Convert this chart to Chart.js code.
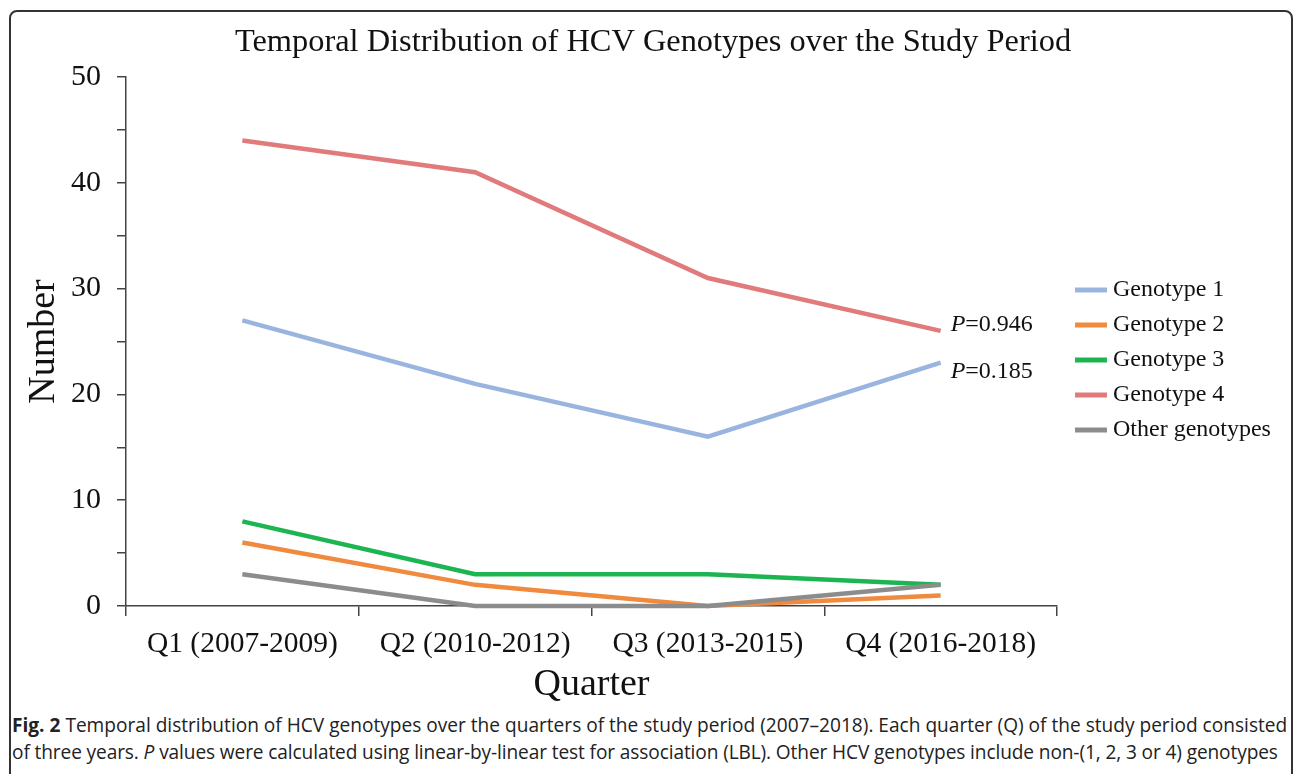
<!DOCTYPE html>
<html>
<head>
<meta charset="utf-8">
<script src="https://cdn.jsdelivr.net/npm/chart.js@4.4.1/dist/chart.umd.min.js"></script>
<style>
  body { margin: 0; background: #fff; width: 1293px; height: 774px; overflow: hidden; position: relative; }
  #moldura { position: absolute; left: 9px; top: 10px; width: 1280px; height: 800px; border: 2px solid #333; border-radius: 8px; }
  #grafico { position: absolute; left: 0; top: 0; }
  .legenda { position: absolute; left: 12px; font-family: "Open Sans", sans-serif; font-size: 19.1px; line-height: 26px; color: #222; white-space: nowrap; }
  .legenda b { font-weight: 700; }
  #linha2 { letter-spacing: -0.11px; }
</style>
</head>
<body>
<div id="moldura"></div>
<canvas id="grafico" width="1293" height="708"></canvas>
<div class="legenda" id="linha1" style="top:712px"><b>Fig. 2</b> Temporal distribution of HCV genotypes over the quarters of the study period (2007–2018). Each quarter (Q) of the study period consisted</div>
<div class="legenda" id="linha2" style="top:739px">of three years. <i>P</i> values were calculated using linear-by-linear test for association (LBL). Other HCV genotypes include non-(1, 2, 3 or 4) genotypes</div>
<script>
const quartis = ['Q1 (2007-2009)', 'Q2 (2010-2012)', 'Q3 (2013-2015)', 'Q4 (2016-2018)'];
const genotipo1 = [27, 21, 16, 23];
const genotipo2 = [6, 2, 0, 1];
const genotipo3 = [8, 3, 3, 2];
const genotipo4 = [44, 41, 31, 26];
const outros = [3, 0, 0, 2];
const nomes = ['Genotype 1', 'Genotype 2', 'Genotype 3', 'Genotype 4', 'Other genotypes'];
const cores = ['#9ab4e0', '#f08a3e', '#1db552', '#e07a7b', '#8c8c8c'];
const valoresP = ['0.946', '0.185'];
const titulo = 'Temporal Distribution of HCV Genotypes over the Study Period';

const serif = '"Liberation Serif", "Times New Roman", serif';
const series = [genotipo1, genotipo2, genotipo3, genotipo4, outros];

// later series on top, like the original
const datasets = series.map((dados, i) => ({
    label: nomes[i],
    data: dados,
    borderColor: cores[i],
    backgroundColor: cores[i],
    borderWidth: 4.5,
    pointRadius: 0,
    tension: 0,
    clip: false,
    order: series.length - i
}));

// titulo, legenda e valores P desenhados a mao
const extras = {
    id: 'extras',
    afterDraw(chart) {
        const ctx = chart.ctx;
        const area = chart.chartArea;
        const x = chart.scales.x;
        const y = chart.scales.y;
        ctx.save();
        ctx.fillStyle = '#111';
        ctx.textBaseline = 'middle';

        ctx.font = '32.4px ' + serif;
        ctx.textAlign = 'center';
        ctx.fillText(titulo, 653, 42);
        ctx.textAlign = 'left';

        ctx.font = '24px ' + serif;
        nomes.forEach((nome, i) => {
            const ly = area.top + 213 + i * 35;
            ctx.strokeStyle = cores[i];
            ctx.lineWidth = 5;
            ctx.beginPath();
            ctx.moveTo(area.right + 18, ly);
            ctx.lineTo(area.right + 50, ly);
            ctx.stroke();
            ctx.fillText(nome, area.right + 56, ly);
        });
        const px = x.getPixelForValue(3) + 10;
        const pos = [y.getPixelForValue(genotipo4[3]) - 6, y.getPixelForValue(genotipo1[3]) + 9];
        valoresP.forEach((v, i) => {
            ctx.font = 'italic 24px ' + serif;
            ctx.fillText('P', px, pos[i]);
            const w = ctx.measureText('P').width;
            ctx.font = '24px ' + serif;
            ctx.fillText('=' + v, px + w, pos[i]);
        });
        ctx.restore();
    }
};

new Chart(document.getElementById('grafico'), {
    type: 'line',
    data: { labels: quartis, datasets: datasets },
    plugins: [extras],
    options: {
        responsive: false,
        animation: false,
        devicePixelRatio: 1,
        layout: { padding: { left: 20, right: 236, top: 77, bottom: 0 } },
        plugins: {
            legend: { display: false },
            tooltip: { enabled: false },
            title: { display: false }
        },
        scales: {
            x: {
                offset: true,
                grid: { display: true, offset: true, drawOnChartArea: false, tickLength: 10, color: '#444', lineWidth: 1.5 },
                border: { display: true, color: '#444', width: 1.5 },
                ticks: { color: '#111', padding: 11, maxRotation: 0, font: { family: serif, size: 29.5 } },
                title: { display: true, text: 'Quarter', color: '#111', padding: { top: 0, bottom: 0 }, font: { family: serif, size: 38, lineHeight: 1.2 } },
                afterFit(scale) { scale.height = 102; }
            },
            y: {
                min: 0,
                max: 50,
                grid: { display: true, drawOnChartArea: false, tickLength: 9, color: '#444', lineWidth: 1.5 },
                border: { display: true, color: '#444', width: 1.5 },
                ticks: {
                    stepSize: 5,
                    color: '#111',
                    padding: 16,
                    font: { family: serif, size: 30 },
                    callback: v => (v % 10 === 0 ? v : '')
                },
                title: { display: true, text: 'Number', color: '#111', padding: { top: 5, bottom: 0 }, font: { family: serif, size: 38, lineHeight: 1 } },
                afterFit(scale) { scale.width = 106; }
            }
        }
    }
});
</script>
</body>
</html>
